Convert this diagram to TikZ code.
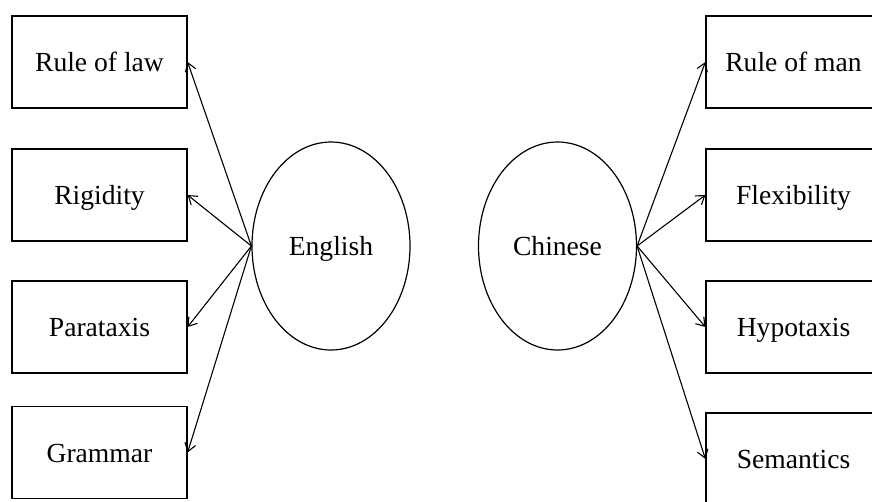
\documentclass[tikz,border=0pt]{standalone}
\usepackage{fontspec}
\setmainfont{Liberation Serif}
\usetikzlibrary{shapes.geometric,arrows.meta}
\begin{document}
\begin{tikzpicture}[x=1pt,y=-1pt,
  txt/.style={font=\fontsize{27.6}{30}\selectfont, text height=19.2pt, text depth=0pt},
  box/.style={txt, draw, line width=1.2pt, rectangle, minimum width=175pt, minimum height=92pt, inner sep=0pt},
  oval/.style={txt, draw, line width=1.2pt, ellipse, minimum width=158pt, minimum height=208pt, inner sep=0pt},
  link/.style={line width=1.1pt, -{Straight Barb[length=8pt,width=11pt,line width=1.1pt]}}]
\useasboundingbox (0,0) rectangle (872,501);
\clip (0,0) rectangle (872,501);
\fill[white] (0,0) rectangle (872,501);
\node[box] (l1) at (99.5,62) {Rule of law};
\node[box] (l2) at (99.5,195) {Rigidity};
\node[box] (l3) at (99.5,327) {Parataxis};
\node[box] (l4) at (99.5,452.5) {Grammar};
\node[box] (r1) at (793.5,62) {Rule of man};
\node[box] (r2) at (793.5,195) {Flexibility};
\node[box] (r3) at (793.5,327) {Hypotaxis};
\node[box] (r4) at (793.5,459) {Semantics};
\node[oval] (en) at (331,246) {English};
\node[oval] (zh) at (557.5,246) {Chinese};
\foreach \i in {1,2,3,4} {
  \draw[link] (en.west) -- (l\i.east);
  \draw[link] (zh.east) -- (r\i.west);
}
\end{tikzpicture}
\end{document}
